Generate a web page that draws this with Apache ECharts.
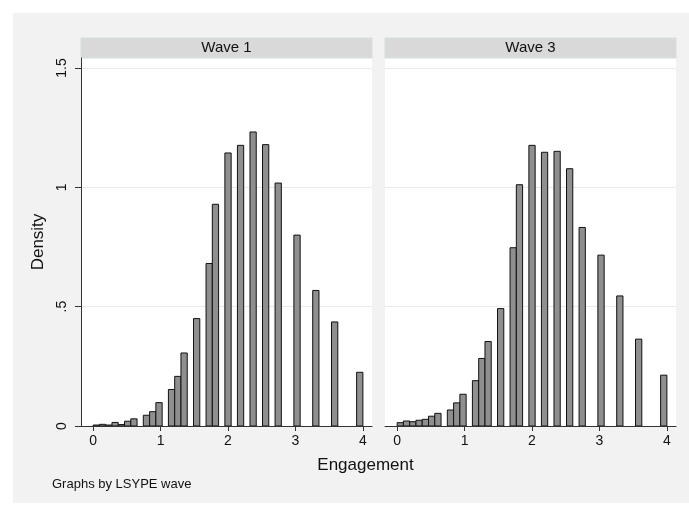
<!DOCTYPE html>
<html>
<head>
<meta charset="utf-8">
<script src="https://cdn.jsdelivr.net/npm/echarts@6/dist/echarts.min.js"></script>
<style>
html,body{margin:0;padding:0;background:#fff;}
#c{width:689px;height:505px;}
</style>
</head>
<body>
<div id="c"></div>
<script>
// ---- data ----
const panelTitles = ['Wave 1', 'Wave 3'];
const binRange = [0, 4];
const binCount = 43;
const wave1Density = [0.004, 0.007, 0.004, 0.015, 0.006, 0.020, 0.030, 0, 0.045, 0.060,
  0.098, 0, 0.153, 0.208, 0.306, 0, 0.450, 0, 0.681, 0.929,
  0, 1.144, 0, 1.176, 0, 1.232, 0, 1.179, 0, 1.018,
  0, 0, 0.800, 0, 0, 0.568, 0, 0, 0.436, 0,
  0, 0, 0.225];
const wave3Density = [0.014, 0.021, 0.018, 0.024, 0.028, 0.041, 0.053, 0, 0.067, 0.097,
  0.133, 0, 0.190, 0.283, 0.354, 0, 0.492, 0, 0.747, 1.011,
  0, 1.176, 0, 1.147, 0, 1.151, 0, 1.078, 0, 0.832,
  0, 0, 0.716, 0, 0, 0.545, 0, 0, 0.364, 0,
  0, 0, 0.213];
const xTicks = [0, 1, 2, 3, 4];
const yTicks = [0, 0.5, 1, 1.5];
const xTitle = 'Engagement';
const yTitle = 'Density';
const note = 'Graphs by LSYPE wave';

// ---- chart ----
const FONT = '"Liberation Sans", Arial, Helvetica, sans-serif';
const binW = (binRange[1] - binRange[0]) / binCount;
const grids = [
  {left: 81, top: 58, width: 291, height: 368},
  {left: 385, top: 58, width: 291, height: 368}
];
function toData(arr) {
  return arr.map((h, i) => [i, h]);
}
function renderBar(params, api) {
  const i = api.value(0), h = api.value(1);
  if (!h) return null;
  const x0 = binRange[0] + i * binW, x1 = x0 + binW;
  const p0 = api.coord([x0, h]);
  const p1 = api.coord([x1, 0]);
  return {
    type: 'rect',
    shape: {x: p0[0], y: p0[1], width: p1[0] - p0[0], height: p1[1] - p0[1]},
    style: {fill: '#8f8f8f', stroke: '#111', lineWidth: 1}
  };
}
function yFmt(v) {
  if (v === 0) return '0';
  let s = String(v);
  if (s.startsWith('0.')) s = s.slice(1);
  return s;
}
const xAxes = grids.map((g, k) => ({
  type: 'value', gridIndex: k, min: -0.18, max: 4.135,
  axisLine: {show: true, onZero: false, lineStyle: {color: '#333', width: 1}},
  axisTick: {show: true, length: 5, customValues: xTicks, lineStyle: {color: '#333'}},
  axisLabel: {show: true, customValues: xTicks, margin: 8, color: '#111', fontSize: 14, fontFamily: FONT},
  splitLine: {show: false}
}));
const yAxes = grids.map((g, k) => ({
  type: 'value', gridIndex: k, min: 0, max: 1.542, interval: 0.5,
  axisLine: {show: k === 0, onZero: false, lineStyle: {color: '#333', width: 1}},
  axisTick: {show: k === 0, length: 6, customValues: yTicks, lineStyle: {color: '#333'}},
  axisLabel: {show: k === 0, customValues: yTicks, rotate: 90, margin: 12, color: '#111', fontSize: 14, fontFamily: FONT, formatter: yFmt},
  splitLine: {show: true, lineStyle: {color: '#e9e9e9', width: 1}},
  name: k === 0 ? yTitle : '',
  nameLocation: 'middle', nameGap: 34,
  nameTextStyle: {color: '#111', fontSize: 17, fontFamily: FONT}
}));
const graphics = [
  {type: 'rect', z: -100, silent: true, shape: {x: 13, y: 13, width: 676, height: 490}, style: {fill: '#f2f2f2'}}
];
grids.forEach((g, k) => {
  graphics.push({type: 'rect', shape: {x: g.left, y: 38, width: g.width, height: 20},
    style: {fill: '#d9d9d9', stroke: '#d3e0e4', lineWidth: 1}});
  graphics.push({type: 'text', x: g.left + g.width / 2, y: 48,
    style: {text: panelTitles[k], fill: '#111', font: '15px ' + FONT, textAlign: 'center', textVerticalAlign: 'middle'}});
});
graphics.push({type: 'text', x: 365.5, y: 465,
  style: {text: xTitle, fill: '#111', font: '17px ' + FONT, textAlign: 'center', textVerticalAlign: 'middle'}});
graphics.push({type: 'text', x: 52, y: 484,
  style: {text: note, fill: '#111', font: '13px ' + FONT, textAlign: 'left', textVerticalAlign: 'middle'}});

const chart = echarts.init(document.getElementById('c'), null, {renderer: 'canvas'});
chart.setOption({
  backgroundColor: '#ffffff',
  animation: false,
  grid: grids.map(g => Object.assign({show: true, backgroundColor: '#ffffff', borderWidth: 0, containLabel: false}, g)),
  xAxis: xAxes,
  yAxis: yAxes,
  graphic: graphics,
  series: [wave1Density, wave3Density].map((arr, k) => ({
    type: 'custom', xAxisIndex: k, yAxisIndex: k,
    renderItem: renderBar,
    data: toData(arr),
    encode: {x: -1, y: 1},
    clip: true
  }))
});
</script>
</body>
</html>
